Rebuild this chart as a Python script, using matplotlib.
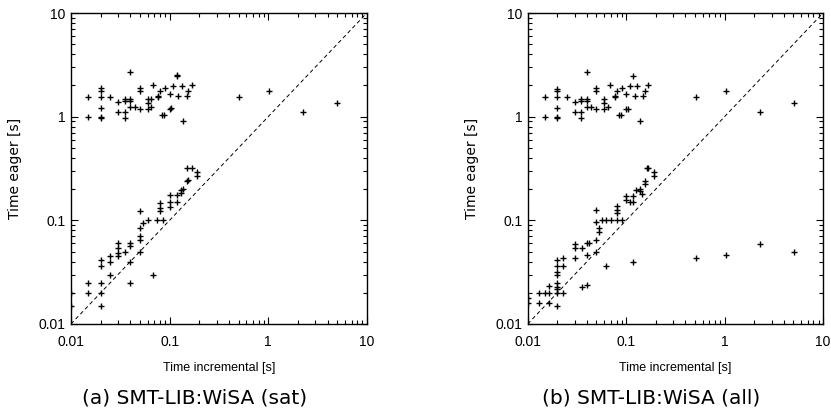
import numpy as np
import matplotlib.pyplot as plt
from matplotlib.ticker import LogLocator, NullFormatter, FixedFormatter, FixedLocator

# ---- data: (a) sat ----
sat_x = [0.015, 0.015, 0.02, 0.02, 0.02, 0.02, 0.02, 0.02, 0.025, 0.03, 0.03,
         0.035, 0.035, 0.035, 0.035, 0.04, 0.04, 0.04, 0.04, 0.045, 0.05, 0.05, 0.05,
         0.06, 0.06, 0.06, 0.065, 0.065, 0.068, 0.077, 0.077, 0.08, 0.084, 0.087, 0.09,
         0.1, 0.1, 0.104, 0.109, 0.118, 0.12, 0.123, 0.133, 0.138, 0.15, 0.155, 0.167,
         0.506, 1.01, 2.27, 5.04,
         0.01, 0.01, 0.015, 0.015, 0.02, 0.02, 0.02, 0.02, 0.02, 0.025, 0.025, 0.025,
         0.03, 0.03, 0.03, 0.03, 0.035, 0.04, 0.04, 0.04, 0.04, 0.05, 0.05, 0.05, 0.05,
         0.05, 0.054, 0.06, 0.068, 0.074, 0.08, 0.08, 0.08, 0.086, 0.1, 0.1, 0.1, 0.118,
         0.118, 0.13, 0.13, 0.138, 0.15, 0.155, 0.15, 0.168, 0.19, 0.19]
sat_y = [1.55, 1.0, 1.88, 1.75, 1.55, 1.21, 0.99, 0.97, 1.55, 1.37, 1.12,
         1.48, 1.42, 1.12, 0.97, 2.71, 1.48, 1.42, 1.25, 1.25, 1.88, 1.78, 1.18,
         1.48, 1.36, 1.18, 1.25, 1.48, 2.03, 1.55, 1.6, 1.78, 1.04, 1.04, 1.88,
         1.66, 1.18, 1.2, 1.97, 2.48, 2.55, 1.57, 1.97, 0.9, 1.57, 1.75, 2.0,
         1.55, 1.75, 1.11, 1.35,
         0.02, 0.015, 0.025, 0.02, 0.041, 0.036, 0.025, 0.02, 0.015, 0.045, 0.04, 0.03,
         0.06, 0.054, 0.048, 0.045, 0.05, 0.06, 0.056, 0.04, 0.025, 0.122, 0.084, 0.07,
         0.065, 0.049, 0.095, 0.1, 0.03, 0.1, 0.146, 0.132, 0.122, 0.1, 0.176, 0.15, 0.135,
         0.176, 0.15, 0.197, 0.185, 0.2, 0.237, 0.245, 0.318, 0.32, 0.29, 0.27]

# ---- data: (b) all ----
all_x = [0.015, 0.015, 0.02, 0.02, 0.02, 0.02, 0.02, 0.02, 0.025, 0.03, 0.03,
         0.035, 0.035, 0.035, 0.035, 0.04, 0.04, 0.04, 0.04, 0.044, 0.05, 0.05, 0.05,
         0.06, 0.06, 0.06, 0.066, 0.068, 0.077, 0.077, 0.08, 0.085, 0.088, 0.09,
         0.1, 0.1, 0.105, 0.109, 0.118, 0.123, 0.13, 0.138, 0.15, 0.155, 0.167,
         0.51, 1.03, 2.29, 5.04,
         0.51, 1.03, 2.29, 5.04, 0.0624, 0.118,
         0.01, 0.01, 0.013, 0.013, 0.015, 0.0166, 0.0166, 0.0166,
         0.02, 0.02, 0.02, 0.02, 0.02, 0.02, 0.02, 0.02, 0.02,
         0.023, 0.023, 0.023, 0.03, 0.03, 0.03, 0.036, 0.036, 0.04, 0.04, 0.04, 0.042,
         0.05, 0.05, 0.05, 0.05, 0.053, 0.053, 0.057, 0.063, 0.071, 0.08, 0.08, 0.08,
         0.08, 0.09, 0.1, 0.1, 0.109, 0.118, 0.118, 0.127, 0.138, 0.138, 0.144, 0.155,
         0.155, 0.163, 0.167, 0.19, 0.19]
all_y = [1.55, 1.0, 1.85, 1.75, 1.55, 1.21, 0.99, 0.97, 1.55, 1.37, 1.12,
         1.48, 1.42, 1.12, 0.97, 2.71, 1.48, 1.42, 1.25, 1.25, 1.88, 1.78, 1.18,
         1.48, 1.36, 1.18, 1.25, 2.03, 1.55, 1.6, 1.78, 1.04, 1.04, 1.88,
         1.66, 1.18, 1.18, 1.97, 2.48, 1.57, 1.97, 0.9, 1.57, 1.75, 2.0,
         1.55, 1.75, 1.11, 1.35,
         0.043, 0.046, 0.059, 0.049, 0.0366, 0.0397,
         0.0177, 0.016, 0.02, 0.016, 0.02, 0.0233, 0.02, 0.016,
         0.041, 0.036, 0.032, 0.03, 0.025, 0.023, 0.022, 0.02, 0.015,
         0.043, 0.036, 0.02, 0.059, 0.054, 0.043, 0.054, 0.023, 0.06, 0.046, 0.024, 0.06,
         0.126, 0.097, 0.065, 0.049, 0.085, 0.077, 0.1, 0.1, 0.1, 0.1, 0.136, 0.126,
         0.117, 0.1, 0.17, 0.157, 0.15, 0.17, 0.15, 0.197, 0.19, 0.2, 0.18, 0.237,
         0.225, 0.32, 0.32, 0.29, 0.27]

panels = [
    (sat_x, sat_y, "(a) SMT-LIB:WiSA (sat)"),
    (all_x, all_y, "(b) SMT-LIB:WiSA (all)"),
]

tick_font = ["Liberation Sans Narrow", "Liberation Sans"]

fig = plt.figure(figsize=(8.31, 4.13), dpi=100)
axes_pos = [[0.0854, 0.2155, 0.356, 0.753], [0.635, 0.2155, 0.3554, 0.753]]
caption_x = [195 / 831, 651 / 831]

for pos, (xs, ys, caption), cx in zip(axes_pos, panels, caption_x):
    ax = fig.add_axes(pos)
    ax.set_xscale("log")
    ax.set_yscale("log")
    ax.set_xlim(0.01, 10)
    ax.set_ylim(0.01, 10)

    # diagonal reference
    ax.plot([0.01, 10], [0.01, 10], color="black", linestyle=(0, (4, 3)),
            linewidth=0.7)
    ax.plot(xs, ys, linestyle="none", marker="+", color="black",
            markersize=5, markeredgewidth=1.0)

    majors = [0.01, 0.1, 1, 10]
    labels = ["0.01", "0.1", "1", "10"]
    ax.xaxis.set_major_locator(FixedLocator(majors))
    ax.yaxis.set_major_locator(FixedLocator(majors))
    ax.xaxis.set_major_formatter(FixedFormatter(labels))
    ax.yaxis.set_major_formatter(FixedFormatter(labels))
    ax.xaxis.set_minor_locator(LogLocator(base=10, subs=np.arange(2, 10), numticks=20))
    ax.yaxis.set_minor_locator(LogLocator(base=10, subs=np.arange(2, 10), numticks=20))
    ax.xaxis.set_minor_formatter(NullFormatter())
    ax.yaxis.set_minor_formatter(NullFormatter())
    ax.tick_params(which="both", direction="in", top=True, right=True,
                   width=0.8, colors="black")
    ax.tick_params(which="major", length=5, labelsize=10)
    ax.tick_params(axis="x", which="major", pad=8)
    ax.tick_params(axis="y", which="major", pad=4)
    ax.tick_params(which="minor", length=3)
    for lab in ax.get_xticklabels() + ax.get_yticklabels():
        lab.set_family(tick_font)
    for sp in ax.spines.values():
        sp.set_linewidth(1.0)

    ax.set_xlabel("Time incremental [s]", family=tick_font, fontsize=9, labelpad=9)
    ax.set_ylabel("Time eager [s]", fontsize=10, labelpad=12)

    fig.text(cx, 1 - 398 / 413, caption, ha="center", va="center",
             fontsize=14.5, family="DejaVu Sans")

fig.savefig("out.png", dpi=100)
